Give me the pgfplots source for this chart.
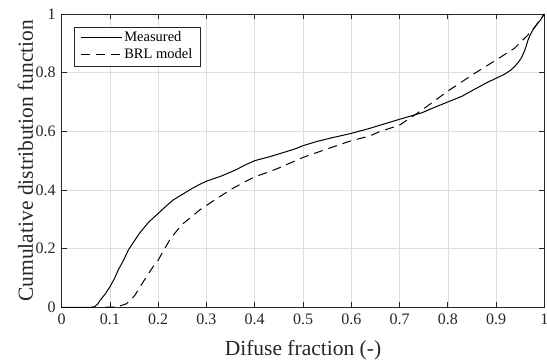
\documentclass[border=0pt]{standalone}
\usepackage{fontspec}
\setmainfont{Liberation Serif}
\usepackage{pgfplots}
\pgfplotsset{compat=1.18}
\definecolor{axcol}{rgb}{0.15,0.15,0.15}
\begin{document}
\begin{tikzpicture}
\begin{axis}[
 scale only axis,
 width=482.6bp, height=293.3bp,
 xmin=0, xmax=1, ymin=0, ymax=1,
 xtick={0,0.1,0.2,0.3,0.4,0.5,0.6,0.7,0.8,0.9,1},
 ytick={0,0.2,0.4,0.6,0.8,1},
 grid=major,
 grid style={black!13, line width=0.5bp},
 axis line style={axcol, line width=0.6bp},
 tick style={axcol, line width=0.6bp},
 tick align=inside,
 major tick length=5bp,
 /pgf/number format/assume math mode=true,
 tick label style={font=\fontsize{16bp}{18bp}\selectfont, text=axcol},
 xticklabel shift=3.5bp,
 yticklabel shift=2.5bp,
 label style={font=\fontsize{21.5bp}{25bp}\selectfont, text=axcol},
 xlabel={Difuse fraction (-)},
 ylabel={Cumulative distribution function},
 xlabel style={at={(axis description cs:0.5,-0.163)}, anchor=base},
 ylabel style={at={(axis description cs:-0.0595,0.5)}, anchor=base},
 legend style={at={(axis description cs:0.0255,0.9567)}, anchor=north west,
   draw=axcol, line width=0.6bp, fill=white,
   font=\fontsize{14.5bp}{16bp}\selectfont,
   inner xsep=6bp, inner ysep=2.5bp, row sep=0bp,
   nodes={inner sep=2bp, text height=10bp, text depth=3bp}},
 legend cell align=left,
 legend image code/.code={\draw[#1] (0bp,0bp) -- (41bp,0bp);},
]
\addplot[black, line width=1bp] coordinates {
(0.0,0) (0.06,0) (0.068,0.002) (0.075,0.012) (0.08,0.025) (0.09,0.045) (0.10,0.07)
(0.11,0.1) (0.117,0.127) (0.128,0.16) (0.138,0.195) (0.15,0.225) (0.162,0.254)
(0.18,0.29) (0.20,0.32) (0.215,0.343) (0.231,0.366) (0.25,0.385) (0.27,0.405)
(0.287,0.42) (0.30,0.43) (0.33,0.447) (0.36,0.468) (0.38,0.485) (0.40,0.50)
(0.43,0.513) (0.45,0.523) (0.48,0.538) (0.50,0.551) (0.53,0.566) (0.56,0.578)
(0.60,0.593) (0.638,0.61) (0.66,0.621) (0.70,0.641) (0.746,0.663) (0.77,0.68)
(0.80,0.70) (0.83,0.72) (0.855,0.743) (0.88,0.765) (0.90,0.781) (0.917,0.794)
(0.93,0.808) (0.938,0.82) (0.946,0.835) (0.952,0.849) (0.958,0.87) (0.962,0.888)
(0.966,0.91) (0.969,0.922) (0.976,0.945) (0.985,0.965) (0.993,0.982) (1.0,1.0)
};
\addlegendentry{Measured}
\addplot[black, line width=1bp, dash pattern=on 9bp off 6bp] coordinates {
(0.09,0) (0.107,0.001) (0.12,0.004) (0.134,0.012) (0.145,0.028) (0.152,0.042)
(0.16,0.063) (0.169,0.087) (0.18,0.115) (0.19,0.14) (0.2,0.161) (0.212,0.196)
(0.224,0.23) (0.238,0.26) (0.252,0.286) (0.27,0.31) (0.286,0.332) (0.307,0.355)
(0.33,0.38) (0.355,0.406) (0.38,0.428) (0.4,0.445) (0.43,0.462) (0.45,0.475)
(0.5,0.511) (0.55,0.54) (0.6,0.568) (0.638,0.584) (0.659,0.599) (0.7,0.621)
(0.746,0.672) (0.8,0.737) (0.855,0.797) (0.9,0.843) (0.938,0.883) (0.966,0.928)
(0.98,0.955) (1.0,1.0)
};
\addlegendentry{BRL model}
\coordinate (SW) at (rel axis cs:0,0);
\coordinate (NE) at (rel axis cs:1,1);
\end{axis}
\pgfresetboundingbox
\path[use as bounding box] ([shift={(-61.7bp,-52.7bp)}]SW) rectangle ([shift={(2.7bp,14bp)}]NE);
\end{tikzpicture}
\end{document}
